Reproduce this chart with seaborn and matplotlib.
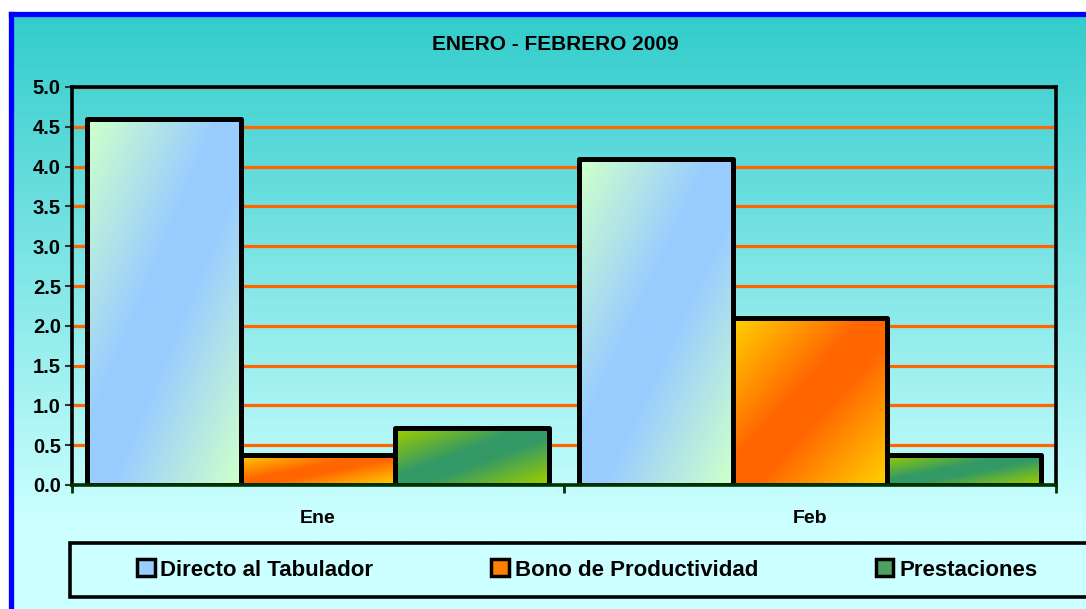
import numpy as np
import pandas as pd
import matplotlib
matplotlib.use('Agg')
import matplotlib.pyplot as plt
import seaborn as sns
from matplotlib.colors import to_rgb
from matplotlib.patches import Patch, Rectangle

# datos
meses = ['Ene', 'Feb']
conceptos = ['Directo al Tabulador', 'Bono de Productividad', 'Prestaciones']
directo = [4.6, 4.1]
bono = [0.38, 2.1]
prestaciones = [0.71, 0.38]
yticks = [0.0, 0.5, 1.0, 1.5, 2.0, 2.5, 3.0, 3.5, 4.0, 4.5, 5.0]
titulo = 'ENERO - FEBRERO 2009'

df = pd.DataFrame({'mes': meses * 3,
                   'concepto': np.repeat(conceptos, len(meses)),
                   'valor': directo + bono + prestaciones})

# colores degradados (esquinas, centro)
grad_cols = [('#CCFFCC', '#99CCFF'), ('#FFCC00', '#FF6600'), ('#99CC00', '#339966')]
legend_cols = ['#99CCFF', '#FF8000', '#4DA060']

sns.set_theme(style='white')
plt.rcParams['font.family'] = ['Liberation Sans', 'DejaVu Sans']
plt.rcParams['font.weight'] = 'bold'
plt.rcParams['text.color'] = 'black'

W, H = 1086, 609
fig = plt.figure(figsize=(W / 100, H / 100), dpi=100, facecolor='white')

# fondo con degradado y marco azul
bg_top = 1 - 13.5 / H
bg = fig.add_axes([10.5 / W, -0.1, 1.0, bg_top + 0.1])
n = 400
ypix = (1 - np.linspace(bg_top, -0.1, n)) * H
t = np.clip((ypix - 16) / (520 - 16), 0, 1)[:, None]
c0, c1 = np.array(to_rgb('#33CCCC')), np.array(to_rgb('#CCFFFF'))
img = (c0 + t[..., None] * (c1 - c0)) * np.ones((1, 2, 1))
bg.imshow(img, extent=[0, 1, 0, 1], aspect='auto', interpolation='bilinear')
bg.set_xticks([])
bg.set_yticks([])
for s in ['top', 'left']:
    bg.spines[s].set_color('#0000FF')
    bg.spines[s].set_linewidth(3.8)
for s in ['bottom', 'right']:
    bg.spines[s].set_visible(False)
bg.set_zorder(-10)

ax = fig.add_axes([72 / W, 1 - 485 / H, (1056 - 72) / W, (485 - 87) / H])
ax.patch.set_alpha(0)

sns.barplot(data=df, x='mes', y='valor', hue='concepto', hue_order=conceptos,
            order=meses, width=0.94, ax=ax, legend=False,
            edgecolor='black', linewidth=3.6, palette=legend_cols)


def diag_gradient(ca, cb, nx=60, ny=120):
    xs = np.linspace(0, 1, nx)[None, :]
    ys = np.linspace(0, 1, ny)[:, None]
    tt = np.abs(xs + ys - 1)
    tt = np.clip((tt - 0.15) / 0.8, 0, 1)
    tt = tt[..., None]
    a, b = np.array(to_rgb(ca)), np.array(to_rgb(cb))
    return b + tt * (a - b)


for cont, (ca, cb) in zip(ax.containers, grad_cols):
    for bar in cont:
        x, w, h = bar.get_x(), bar.get_width(), bar.get_height()
        im = ax.imshow(diag_gradient(ca, cb), extent=[x, x + w, 0, h],
                       aspect='auto', zorder=1.5, interpolation='bilinear')
        im.set_clip_path(bar)
        bar.set_facecolor('none')
        bar.set_zorder(2)
        bar.set_joinstyle('round')

ax.set_xlim(-0.5, 1.5)
ax.set_ylim(0, 5)
ax.set_yticks(yticks)
ax.set_yticklabels([f'{v:.1f}' for v in yticks])
ax.yaxis.grid(True, color='#FF6600', linewidth=2.3)
ax.xaxis.grid(False)
ax.set_axisbelow(True)

for s in ax.spines.values():
    s.set_visible(True)
    s.set_color('black')
    s.set_linewidth(2.6)
    s.set_zorder(3)
ax.spines['bottom'].set_color('#003300')

ax.tick_params(axis='y', left=True, length=5, width=1.5, color='#333333',
               labelsize=14.5, pad=3, labelcolor='black')
ax.set_xticks([0, 1])
ax.set_xticks([-0.5, 0.5, 1.5], minor=True)
ax.tick_params(axis='x', which='major', length=0, pad=18, labelsize=14, labelcolor='black')
ax.tick_params(axis='x', which='minor', bottom=True, length=6, width=2, color='#003300')
ax.set_xlabel('')
ax.set_ylabel('')

fig.text(555 / W, 1 - 45 / H, titulo, ha='center', va='center',
         fontsize=15, fontweight='bold', color='black')

# leyenda
fig.patches.append(Rectangle((70 / W, 1 - 597 / H), 1.0, 54 / H,
                             transform=fig.transFigure, facecolor='#CCFFFF',
                             edgecolor='black', linewidth=2.6, zorder=1))
handles = [Patch(facecolor=c, edgecolor='black', linewidth=2.5) for c in legend_cols]
leg = fig.legend(handles, conceptos, loc='center left',
                 bbox_to_anchor=(126 / W, 1 - 570 / H), ncol=3, frameon=False,
                 fontsize=16, handlelength=0.8, handleheight=0.8,
                 handletextpad=0.25, columnspacing=5.3, borderpad=0)
for txt in leg.get_texts():
    txt.set_color('black')

fig.savefig('out.png', dpi=100, facecolor='white')
